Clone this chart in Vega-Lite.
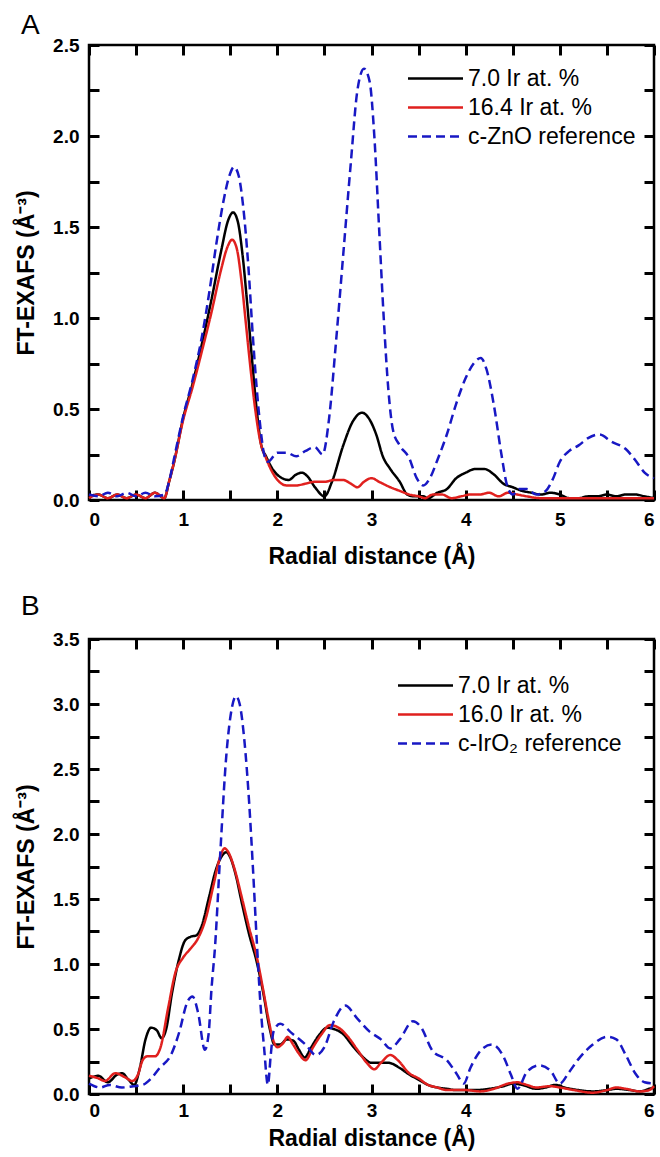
{
"$schema": "https://vega.github.io/schema/vega-lite/v6.json",
"padding": {"left": 14, "top": 10, "right": 0, "bottom": 0},
"config": {
  "font": "Liberation Sans",
  "view": {"stroke": "black", "strokeWidth": 2.5},
  "axis": {"domain": false, "grid": false,
    "labelFont": "Liberation Sans", "labelFontWeight": "bold", "labelFontSize": 19, "labelColor": "black",
    "titleFont": "Liberation Sans", "titleFontWeight": "bold", "titleFontSize": 23, "titleColor": "black"},
  "legend": {"orient": "none", "title": null, "symbolType": "M-2.5,0H2.5", "symbolSize": 484, "symbolStrokeWidth": 2.5,
    "labelFont": "Liberation Sans", "labelFontSize": 23, "labelColor": "black", "labelOffset": 20, "labelLimit": 400, "rowPadding": 4, "padding": 0},
  "title": {"font": "Liberation Sans", "fontSize": 28, "fontWeight": "normal", "color": "black", "anchor": "start", "frame": "group"}
},
"datasets": {
"a": [
{"s":"7.0 Ir at. %","r":0.0,"v":0.02},{"s":"7.0 Ir at. %","r":0.1,"v":0.03},{"s":"7.0 Ir at. %","r":0.2,"v":0.01},{"s":"7.0 Ir at. %","r":0.3,"v":0.03},{"s":"7.0 Ir at. %","r":0.4,"v":0.01},{"s":"7.0 Ir at. %","r":0.5,"v":0.03},{"s":"7.0 Ir at. %","r":0.6,"v":0.01},{"s":"7.0 Ir at. %","r":0.7,"v":0.04},{"s":"7.0 Ir at. %","r":0.8,"v":0.01},{"s":"7.0 Ir at. %","r":0.85,"v":0.1},{"s":"7.0 Ir at. %","r":0.9,"v":0.2},{"s":"7.0 Ir at. %","r":1.0,"v":0.45},{"s":"7.0 Ir at. %","r":1.1,"v":0.64},{"s":"7.0 Ir at. %","r":1.2,"v":0.86},{"s":"7.0 Ir at. %","r":1.3,"v":1.1},{"s":"7.0 Ir at. %","r":1.4,"v":1.36},{"s":"7.0 Ir at. %","r":1.48,"v":1.54},{"s":"7.0 Ir at. %","r":1.53,"v":1.58},{"s":"7.0 Ir at. %","r":1.58,"v":1.53},{"s":"7.0 Ir at. %","r":1.63,"v":1.35},{"s":"7.0 Ir at. %","r":1.68,"v":1.08},{"s":"7.0 Ir at. %","r":1.73,"v":0.78},{"s":"7.0 Ir at. %","r":1.78,"v":0.5},{"s":"7.0 Ir at. %","r":1.83,"v":0.3},{"s":"7.0 Ir at. %","r":1.88,"v":0.24},{"s":"7.0 Ir at. %","r":1.95,"v":0.17},{"s":"7.0 Ir at. %","r":2.05,"v":0.12},{"s":"7.0 Ir at. %","r":2.12,"v":0.11},{"s":"7.0 Ir at. %","r":2.2,"v":0.14},{"s":"7.0 Ir at. %","r":2.26,"v":0.15},{"s":"7.0 Ir at. %","r":2.32,"v":0.13},{"s":"7.0 Ir at. %","r":2.4,"v":0.07},{"s":"7.0 Ir at. %","r":2.5,"v":0.02},{"s":"7.0 Ir at. %","r":2.58,"v":0.1},{"s":"7.0 Ir at. %","r":2.7,"v":0.3},{"s":"7.0 Ir at. %","r":2.8,"v":0.43},{"s":"7.0 Ir at. %","r":2.9,"v":0.48},{"s":"7.0 Ir at. %","r":2.97,"v":0.45},{"s":"7.0 Ir at. %","r":3.05,"v":0.36},{"s":"7.0 Ir at. %","r":3.12,"v":0.24},{"s":"7.0 Ir at. %","r":3.2,"v":0.17},{"s":"7.0 Ir at. %","r":3.3,"v":0.1},{"s":"7.0 Ir at. %","r":3.38,"v":0.03},{"s":"7.0 Ir at. %","r":3.45,"v":0.02},{"s":"7.0 Ir at. %","r":3.55,"v":0.02},{"s":"7.0 Ir at. %","r":3.6,"v":0.01},{"s":"7.0 Ir at. %","r":3.7,"v":0.04},{"s":"7.0 Ir at. %","r":3.8,"v":0.06},{"s":"7.0 Ir at. %","r":3.9,"v":0.12},{"s":"7.0 Ir at. %","r":4.0,"v":0.15},{"s":"7.0 Ir at. %","r":4.1,"v":0.17},{"s":"7.0 Ir at. %","r":4.2,"v":0.17},{"s":"7.0 Ir at. %","r":4.3,"v":0.14},{"s":"7.0 Ir at. %","r":4.4,"v":0.09},{"s":"7.0 Ir at. %","r":4.5,"v":0.07},{"s":"7.0 Ir at. %","r":4.6,"v":0.05},{"s":"7.0 Ir at. %","r":4.7,"v":0.04},{"s":"7.0 Ir at. %","r":4.8,"v":0.03},{"s":"7.0 Ir at. %","r":4.9,"v":0.04},{"s":"7.0 Ir at. %","r":5.0,"v":0.03},{"s":"7.0 Ir at. %","r":5.1,"v":0.01},{"s":"7.0 Ir at. %","r":5.2,"v":0.01},{"s":"7.0 Ir at. %","r":5.3,"v":0.02},{"s":"7.0 Ir at. %","r":5.4,"v":0.02},{"s":"7.0 Ir at. %","r":5.5,"v":0.03},{"s":"7.0 Ir at. %","r":5.6,"v":0.02},{"s":"7.0 Ir at. %","r":5.7,"v":0.03},{"s":"7.0 Ir at. %","r":5.8,"v":0.03},{"s":"7.0 Ir at. %","r":5.9,"v":0.02},{"s":"7.0 Ir at. %","r":6.0,"v":0.01},
{"s":"16.4 Ir at. %","r":0.0,"v":0.01},{"s":"16.4 Ir at. %","r":0.1,"v":0.03},{"s":"16.4 Ir at. %","r":0.2,"v":0.01},{"s":"16.4 Ir at. %","r":0.3,"v":0.03},{"s":"16.4 Ir at. %","r":0.4,"v":0.01},{"s":"16.4 Ir at. %","r":0.5,"v":0.03},{"s":"16.4 Ir at. %","r":0.6,"v":0.01},{"s":"16.4 Ir at. %","r":0.7,"v":0.04},{"s":"16.4 Ir at. %","r":0.8,"v":0.01},{"s":"16.4 Ir at. %","r":0.85,"v":0.1},{"s":"16.4 Ir at. %","r":0.9,"v":0.2},{"s":"16.4 Ir at. %","r":1.0,"v":0.44},{"s":"16.4 Ir at. %","r":1.1,"v":0.62},{"s":"16.4 Ir at. %","r":1.2,"v":0.82},{"s":"16.4 Ir at. %","r":1.3,"v":1.03},{"s":"16.4 Ir at. %","r":1.4,"v":1.26},{"s":"16.4 Ir at. %","r":1.47,"v":1.39},{"s":"16.4 Ir at. %","r":1.52,"v":1.43},{"s":"16.4 Ir at. %","r":1.57,"v":1.38},{"s":"16.4 Ir at. %","r":1.62,"v":1.2},{"s":"16.4 Ir at. %","r":1.67,"v":0.95},{"s":"16.4 Ir at. %","r":1.72,"v":0.7},{"s":"16.4 Ir at. %","r":1.77,"v":0.48},{"s":"16.4 Ir at. %","r":1.82,"v":0.32},{"s":"16.4 Ir at. %","r":1.88,"v":0.23},{"s":"16.4 Ir at. %","r":1.95,"v":0.15},{"s":"16.4 Ir at. %","r":2.02,"v":0.1},{"s":"16.4 Ir at. %","r":2.1,"v":0.08},{"s":"16.4 Ir at. %","r":2.2,"v":0.08},{"s":"16.4 Ir at. %","r":2.3,"v":0.09},{"s":"16.4 Ir at. %","r":2.4,"v":0.1},{"s":"16.4 Ir at. %","r":2.5,"v":0.1},{"s":"16.4 Ir at. %","r":2.6,"v":0.11},{"s":"16.4 Ir at. %","r":2.7,"v":0.11},{"s":"16.4 Ir at. %","r":2.78,"v":0.09},{"s":"16.4 Ir at. %","r":2.85,"v":0.07},{"s":"16.4 Ir at. %","r":2.92,"v":0.1},{"s":"16.4 Ir at. %","r":3.0,"v":0.12},{"s":"16.4 Ir at. %","r":3.08,"v":0.1},{"s":"16.4 Ir at. %","r":3.2,"v":0.07},{"s":"16.4 Ir at. %","r":3.3,"v":0.05},{"s":"16.4 Ir at. %","r":3.4,"v":0.03},{"s":"16.4 Ir at. %","r":3.5,"v":0.02},{"s":"16.4 Ir at. %","r":3.57,"v":0.01},{"s":"16.4 Ir at. %","r":3.65,"v":0.03},{"s":"16.4 Ir at. %","r":3.75,"v":0.03},{"s":"16.4 Ir at. %","r":3.85,"v":0.01},{"s":"16.4 Ir at. %","r":3.95,"v":0.02},{"s":"16.4 Ir at. %","r":4.05,"v":0.03},{"s":"16.4 Ir at. %","r":4.15,"v":0.03},{"s":"16.4 Ir at. %","r":4.25,"v":0.04},{"s":"16.4 Ir at. %","r":4.35,"v":0.02},{"s":"16.4 Ir at. %","r":4.45,"v":0.04},{"s":"16.4 Ir at. %","r":4.55,"v":0.03},{"s":"16.4 Ir at. %","r":4.65,"v":0.02},{"s":"16.4 Ir at. %","r":4.8,"v":0.01},{"s":"16.4 Ir at. %","r":5.0,"v":0.01},{"s":"16.4 Ir at. %","r":5.2,"v":0.01},{"s":"16.4 Ir at. %","r":5.5,"v":0.01},{"s":"16.4 Ir at. %","r":5.8,"v":0.01},{"s":"16.4 Ir at. %","r":6.0,"v":0.01},
{"s":"c-ZnO reference","r":0.0,"v":0.03},{"s":"c-ZnO reference","r":0.1,"v":0.02},{"s":"c-ZnO reference","r":0.2,"v":0.04},{"s":"c-ZnO reference","r":0.3,"v":0.02},{"s":"c-ZnO reference","r":0.4,"v":0.04},{"s":"c-ZnO reference","r":0.5,"v":0.02},{"s":"c-ZnO reference","r":0.6,"v":0.04},{"s":"c-ZnO reference","r":0.7,"v":0.02},{"s":"c-ZnO reference","r":0.8,"v":0.03},{"s":"c-ZnO reference","r":0.85,"v":0.1},{"s":"c-ZnO reference","r":0.9,"v":0.22},{"s":"c-ZnO reference","r":1.0,"v":0.46},{"s":"c-ZnO reference","r":1.1,"v":0.66},{"s":"c-ZnO reference","r":1.2,"v":0.9},{"s":"c-ZnO reference","r":1.28,"v":1.15},{"s":"c-ZnO reference","r":1.35,"v":1.4},{"s":"c-ZnO reference","r":1.42,"v":1.62},{"s":"c-ZnO reference","r":1.49,"v":1.78},{"s":"c-ZnO reference","r":1.54,"v":1.83},{"s":"c-ZnO reference","r":1.59,"v":1.78},{"s":"c-ZnO reference","r":1.64,"v":1.6},{"s":"c-ZnO reference","r":1.69,"v":1.3},{"s":"c-ZnO reference","r":1.74,"v":0.9},{"s":"c-ZnO reference","r":1.78,"v":0.62},{"s":"c-ZnO reference","r":1.82,"v":0.4},{"s":"c-ZnO reference","r":1.86,"v":0.25},{"s":"c-ZnO reference","r":1.9,"v":0.21},{"s":"c-ZnO reference","r":2.0,"v":0.26},{"s":"c-ZnO reference","r":2.1,"v":0.26},{"s":"c-ZnO reference","r":2.2,"v":0.24},{"s":"c-ZnO reference","r":2.3,"v":0.27},{"s":"c-ZnO reference","r":2.4,"v":0.29},{"s":"c-ZnO reference","r":2.48,"v":0.25},{"s":"c-ZnO reference","r":2.55,"v":0.45},{"s":"c-ZnO reference","r":2.62,"v":0.85},{"s":"c-ZnO reference","r":2.7,"v":1.35},{"s":"c-ZnO reference","r":2.78,"v":1.85},{"s":"c-ZnO reference","r":2.85,"v":2.25},{"s":"c-ZnO reference","r":2.92,"v":2.37},{"s":"c-ZnO reference","r":2.98,"v":2.3},{"s":"c-ZnO reference","r":3.03,"v":2.0},{"s":"c-ZnO reference","r":3.08,"v":1.5},{"s":"c-ZnO reference","r":3.13,"v":1.0},{"s":"c-ZnO reference","r":3.18,"v":0.6},{"s":"c-ZnO reference","r":3.23,"v":0.38},{"s":"c-ZnO reference","r":3.3,"v":0.3},{"s":"c-ZnO reference","r":3.4,"v":0.23},{"s":"c-ZnO reference","r":3.48,"v":0.12},{"s":"c-ZnO reference","r":3.55,"v":0.08},{"s":"c-ZnO reference","r":3.62,"v":0.12},{"s":"c-ZnO reference","r":3.7,"v":0.22},{"s":"c-ZnO reference","r":3.8,"v":0.36},{"s":"c-ZnO reference","r":3.9,"v":0.53},{"s":"c-ZnO reference","r":4.0,"v":0.67},{"s":"c-ZnO reference","r":4.1,"v":0.76},{"s":"c-ZnO reference","r":4.16,"v":0.78},{"s":"c-ZnO reference","r":4.22,"v":0.72},{"s":"c-ZnO reference","r":4.3,"v":0.52},{"s":"c-ZnO reference","r":4.38,"v":0.25},{"s":"c-ZnO reference","r":4.44,"v":0.08},{"s":"c-ZnO reference","r":4.5,"v":0.03},{"s":"c-ZnO reference","r":4.57,"v":0.06},{"s":"c-ZnO reference","r":4.65,"v":0.06},{"s":"c-ZnO reference","r":4.75,"v":0.03},{"s":"c-ZnO reference","r":4.85,"v":0.05},{"s":"c-ZnO reference","r":4.93,"v":0.12},{"s":"c-ZnO reference","r":5.0,"v":0.21},{"s":"c-ZnO reference","r":5.1,"v":0.27},{"s":"c-ZnO reference","r":5.2,"v":0.3},{"s":"c-ZnO reference","r":5.3,"v":0.34},{"s":"c-ZnO reference","r":5.42,"v":0.36},{"s":"c-ZnO reference","r":5.55,"v":0.32},{"s":"c-ZnO reference","r":5.7,"v":0.28},{"s":"c-ZnO reference","r":5.8,"v":0.22},{"s":"c-ZnO reference","r":5.9,"v":0.15},{"s":"c-ZnO reference","r":6.0,"v":0.12}
],
"b": [
{"s":"7.0 Ir at. %","r":0.0,"v":0.12},{"s":"7.0 Ir at. %","r":0.1,"v":0.14},{"s":"7.0 Ir at. %","r":0.2,"v":0.09},{"s":"7.0 Ir at. %","r":0.3,"v":0.15},{"s":"7.0 Ir at. %","r":0.35,"v":0.16},{"s":"7.0 Ir at. %","r":0.42,"v":0.11},{"s":"7.0 Ir at. %","r":0.48,"v":0.07},{"s":"7.0 Ir at. %","r":0.54,"v":0.2},{"s":"7.0 Ir at. %","r":0.6,"v":0.42},{"s":"7.0 Ir at. %","r":0.66,"v":0.51},{"s":"7.0 Ir at. %","r":0.72,"v":0.49},{"s":"7.0 Ir at. %","r":0.77,"v":0.43},{"s":"7.0 Ir at. %","r":0.82,"v":0.5},{"s":"7.0 Ir at. %","r":0.88,"v":0.77},{"s":"7.0 Ir at. %","r":0.95,"v":1.02},{"s":"7.0 Ir at. %","r":1.02,"v":1.18},{"s":"7.0 Ir at. %","r":1.08,"v":1.21},{"s":"7.0 Ir at. %","r":1.14,"v":1.22},{"s":"7.0 Ir at. %","r":1.2,"v":1.3},{"s":"7.0 Ir at. %","r":1.27,"v":1.5},{"s":"7.0 Ir at. %","r":1.35,"v":1.73},{"s":"7.0 Ir at. %","r":1.42,"v":1.84},{"s":"7.0 Ir at. %","r":1.46,"v":1.86},{"s":"7.0 Ir at. %","r":1.5,"v":1.82},{"s":"7.0 Ir at. %","r":1.56,"v":1.68},{"s":"7.0 Ir at. %","r":1.62,"v":1.48},{"s":"7.0 Ir at. %","r":1.7,"v":1.23},{"s":"7.0 Ir at. %","r":1.78,"v":1.02},{"s":"7.0 Ir at. %","r":1.85,"v":0.78},{"s":"7.0 Ir at. %","r":1.92,"v":0.5},{"s":"7.0 Ir at. %","r":1.97,"v":0.38},{"s":"7.0 Ir at. %","r":2.03,"v":0.38},{"s":"7.0 Ir at. %","r":2.1,"v":0.42},{"s":"7.0 Ir at. %","r":2.17,"v":0.41},{"s":"7.0 Ir at. %","r":2.23,"v":0.34},{"s":"7.0 Ir at. %","r":2.29,"v":0.28},{"s":"7.0 Ir at. %","r":2.36,"v":0.36},{"s":"7.0 Ir at. %","r":2.45,"v":0.46},{"s":"7.0 Ir at. %","r":2.53,"v":0.51},{"s":"7.0 Ir at. %","r":2.6,"v":0.5},{"s":"7.0 Ir at. %","r":2.7,"v":0.46},{"s":"7.0 Ir at. %","r":2.8,"v":0.37},{"s":"7.0 Ir at. %","r":2.9,"v":0.29},{"s":"7.0 Ir at. %","r":3.0,"v":0.24},{"s":"7.0 Ir at. %","r":3.1,"v":0.24},{"s":"7.0 Ir at. %","r":3.18,"v":0.24},{"s":"7.0 Ir at. %","r":3.3,"v":0.2},{"s":"7.0 Ir at. %","r":3.4,"v":0.15},{"s":"7.0 Ir at. %","r":3.5,"v":0.11},{"s":"7.0 Ir at. %","r":3.6,"v":0.07},{"s":"7.0 Ir at. %","r":3.7,"v":0.05},{"s":"7.0 Ir at. %","r":3.8,"v":0.04},{"s":"7.0 Ir at. %","r":3.9,"v":0.03},{"s":"7.0 Ir at. %","r":4.0,"v":0.03},{"s":"7.0 Ir at. %","r":4.1,"v":0.03},{"s":"7.0 Ir at. %","r":4.25,"v":0.04},{"s":"7.0 Ir at. %","r":4.4,"v":0.06},{"s":"7.0 Ir at. %","r":4.5,"v":0.08},{"s":"7.0 Ir at. %","r":4.6,"v":0.07},{"s":"7.0 Ir at. %","r":4.75,"v":0.04},{"s":"7.0 Ir at. %","r":4.85,"v":0.05},{"s":"7.0 Ir at. %","r":4.95,"v":0.07},{"s":"7.0 Ir at. %","r":5.05,"v":0.05},{"s":"7.0 Ir at. %","r":5.2,"v":0.03},{"s":"7.0 Ir at. %","r":5.35,"v":0.02},{"s":"7.0 Ir at. %","r":5.5,"v":0.03},{"s":"7.0 Ir at. %","r":5.6,"v":0.04},{"s":"7.0 Ir at. %","r":5.75,"v":0.03},{"s":"7.0 Ir at. %","r":5.85,"v":0.02},{"s":"7.0 Ir at. %","r":5.95,"v":0.04},{"s":"7.0 Ir at. %","r":6.0,"v":0.05},
{"s":"16.0 Ir at. %","r":0.0,"v":0.14},{"s":"16.0 Ir at. %","r":0.1,"v":0.12},{"s":"16.0 Ir at. %","r":0.17,"v":0.1},{"s":"16.0 Ir at. %","r":0.28,"v":0.16},{"s":"16.0 Ir at. %","r":0.38,"v":0.13},{"s":"16.0 Ir at. %","r":0.46,"v":0.1},{"s":"16.0 Ir at. %","r":0.52,"v":0.15},{"s":"16.0 Ir at. %","r":0.57,"v":0.26},{"s":"16.0 Ir at. %","r":0.62,"v":0.29},{"s":"16.0 Ir at. %","r":0.7,"v":0.29},{"s":"16.0 Ir at. %","r":0.76,"v":0.36},{"s":"16.0 Ir at. %","r":0.84,"v":0.66},{"s":"16.0 Ir at. %","r":0.92,"v":0.94},{"s":"16.0 Ir at. %","r":1.0,"v":1.05},{"s":"16.0 Ir at. %","r":1.08,"v":1.12},{"s":"16.0 Ir at. %","r":1.16,"v":1.2},{"s":"16.0 Ir at. %","r":1.24,"v":1.35},{"s":"16.0 Ir at. %","r":1.32,"v":1.6},{"s":"16.0 Ir at. %","r":1.4,"v":1.84},{"s":"16.0 Ir at. %","r":1.44,"v":1.89},{"s":"16.0 Ir at. %","r":1.48,"v":1.86},{"s":"16.0 Ir at. %","r":1.55,"v":1.72},{"s":"16.0 Ir at. %","r":1.62,"v":1.52},{"s":"16.0 Ir at. %","r":1.7,"v":1.28},{"s":"16.0 Ir at. %","r":1.78,"v":1.06},{"s":"16.0 Ir at. %","r":1.85,"v":0.8},{"s":"16.0 Ir at. %","r":1.9,"v":0.6},{"s":"16.0 Ir at. %","r":1.95,"v":0.43},{"s":"16.0 Ir at. %","r":2.0,"v":0.36},{"s":"16.0 Ir at. %","r":2.06,"v":0.39},{"s":"16.0 Ir at. %","r":2.11,"v":0.44},{"s":"16.0 Ir at. %","r":2.16,"v":0.39},{"s":"16.0 Ir at. %","r":2.22,"v":0.32},{"s":"16.0 Ir at. %","r":2.3,"v":0.26},{"s":"16.0 Ir at. %","r":2.38,"v":0.36},{"s":"16.0 Ir at. %","r":2.47,"v":0.46},{"s":"16.0 Ir at. %","r":2.56,"v":0.53},{"s":"16.0 Ir at. %","r":2.65,"v":0.51},{"s":"16.0 Ir at. %","r":2.75,"v":0.44},{"s":"16.0 Ir at. %","r":2.85,"v":0.34},{"s":"16.0 Ir at. %","r":2.95,"v":0.24},{"s":"16.0 Ir at. %","r":3.03,"v":0.19},{"s":"16.0 Ir at. %","r":3.1,"v":0.24},{"s":"16.0 Ir at. %","r":3.2,"v":0.3},{"s":"16.0 Ir at. %","r":3.28,"v":0.26},{"s":"16.0 Ir at. %","r":3.4,"v":0.16},{"s":"16.0 Ir at. %","r":3.5,"v":0.12},{"s":"16.0 Ir at. %","r":3.6,"v":0.07},{"s":"16.0 Ir at. %","r":3.7,"v":0.05},{"s":"16.0 Ir at. %","r":3.8,"v":0.03},{"s":"16.0 Ir at. %","r":3.9,"v":0.03},{"s":"16.0 Ir at. %","r":4.0,"v":0.03},{"s":"16.0 Ir at. %","r":4.15,"v":0.02},{"s":"16.0 Ir at. %","r":4.3,"v":0.04},{"s":"16.0 Ir at. %","r":4.45,"v":0.08},{"s":"16.0 Ir at. %","r":4.55,"v":0.09},{"s":"16.0 Ir at. %","r":4.65,"v":0.07},{"s":"16.0 Ir at. %","r":4.75,"v":0.05},{"s":"16.0 Ir at. %","r":4.9,"v":0.06},{"s":"16.0 Ir at. %","r":5.0,"v":0.05},{"s":"16.0 Ir at. %","r":5.15,"v":0.03},{"s":"16.0 Ir at. %","r":5.35,"v":0.01},{"s":"16.0 Ir at. %","r":5.5,"v":0.03},{"s":"16.0 Ir at. %","r":5.6,"v":0.05},{"s":"16.0 Ir at. %","r":5.7,"v":0.04},{"s":"16.0 Ir at. %","r":5.85,"v":0.02},{"s":"16.0 Ir at. %","r":5.95,"v":0.03},{"s":"16.0 Ir at. %","r":6.0,"v":0.06},
{"s":"c-IrO₂ reference","r":0.0,"v":0.08},{"s":"c-IrO₂ reference","r":0.12,"v":0.05},{"s":"c-IrO₂ reference","r":0.22,"v":0.07},{"s":"c-IrO₂ reference","r":0.35,"v":0.05},{"s":"c-IrO₂ reference","r":0.47,"v":0.06},{"s":"c-IrO₂ reference","r":0.57,"v":0.07},{"s":"c-IrO₂ reference","r":0.66,"v":0.12},{"s":"c-IrO₂ reference","r":0.75,"v":0.2},{"s":"c-IrO₂ reference","r":0.87,"v":0.3},{"s":"c-IrO₂ reference","r":0.96,"v":0.48},{"s":"c-IrO₂ reference","r":1.04,"v":0.7},{"s":"c-IrO₂ reference","r":1.1,"v":0.75},{"s":"c-IrO₂ reference","r":1.16,"v":0.62},{"s":"c-IrO₂ reference","r":1.23,"v":0.34},{"s":"c-IrO₂ reference","r":1.27,"v":0.46},{"s":"c-IrO₂ reference","r":1.3,"v":0.8},{"s":"c-IrO₂ reference","r":1.34,"v":1.15},{"s":"c-IrO₂ reference","r":1.39,"v":1.8},{"s":"c-IrO₂ reference","r":1.46,"v":2.62},{"s":"c-IrO₂ reference","r":1.52,"v":2.98},{"s":"c-IrO₂ reference","r":1.56,"v":3.06},{"s":"c-IrO₂ reference","r":1.6,"v":3.0},{"s":"c-IrO₂ reference","r":1.65,"v":2.72},{"s":"c-IrO₂ reference","r":1.7,"v":2.25},{"s":"c-IrO₂ reference","r":1.74,"v":1.75},{"s":"c-IrO₂ reference","r":1.78,"v":1.2},{"s":"c-IrO₂ reference","r":1.82,"v":0.7},{"s":"c-IrO₂ reference","r":1.86,"v":0.35},{"s":"c-IrO₂ reference","r":1.9,"v":0.07},{"s":"c-IrO₂ reference","r":1.93,"v":0.3},{"s":"c-IrO₂ reference","r":1.96,"v":0.48},{"s":"c-IrO₂ reference","r":2.03,"v":0.54},{"s":"c-IrO₂ reference","r":2.15,"v":0.47},{"s":"c-IrO₂ reference","r":2.3,"v":0.38},{"s":"c-IrO₂ reference","r":2.41,"v":0.3},{"s":"c-IrO₂ reference","r":2.5,"v":0.36},{"s":"c-IrO₂ reference","r":2.6,"v":0.56},{"s":"c-IrO₂ reference","r":2.72,"v":0.68},{"s":"c-IrO₂ reference","r":2.85,"v":0.58},{"s":"c-IrO₂ reference","r":2.98,"v":0.48},{"s":"c-IrO₂ reference","r":3.1,"v":0.42},{"s":"c-IrO₂ reference","r":3.2,"v":0.35},{"s":"c-IrO₂ reference","r":3.3,"v":0.42},{"s":"c-IrO₂ reference","r":3.44,"v":0.56},{"s":"c-IrO₂ reference","r":3.52,"v":0.52},{"s":"c-IrO₂ reference","r":3.65,"v":0.33},{"s":"c-IrO₂ reference","r":3.8,"v":0.26},{"s":"c-IrO₂ reference","r":3.9,"v":0.16},{"s":"c-IrO₂ reference","r":3.98,"v":0.08},{"s":"c-IrO₂ reference","r":4.05,"v":0.2},{"s":"c-IrO₂ reference","r":4.18,"v":0.35},{"s":"c-IrO₂ reference","r":4.28,"v":0.38},{"s":"c-IrO₂ reference","r":4.4,"v":0.29},{"s":"c-IrO₂ reference","r":4.48,"v":0.15},{"s":"c-IrO₂ reference","r":4.55,"v":0.04},{"s":"c-IrO₂ reference","r":4.65,"v":0.17},{"s":"c-IrO₂ reference","r":4.78,"v":0.22},{"s":"c-IrO₂ reference","r":4.9,"v":0.18},{"s":"c-IrO₂ reference","r":5.0,"v":0.08},{"s":"c-IrO₂ reference","r":5.1,"v":0.17},{"s":"c-IrO₂ reference","r":5.2,"v":0.27},{"s":"c-IrO₂ reference","r":5.35,"v":0.38},{"s":"c-IrO₂ reference","r":5.5,"v":0.44},{"s":"c-IrO₂ reference","r":5.6,"v":0.42},{"s":"c-IrO₂ reference","r":5.7,"v":0.3},{"s":"c-IrO₂ reference","r":5.8,"v":0.16},{"s":"c-IrO₂ reference","r":5.9,"v":0.09},{"s":"c-IrO₂ reference","r":6.0,"v":0.08}
]
},
"spacing": 21,
"resolve": {"scale": {"x": "independent", "y": "independent", "color": "independent", "strokeDash": "independent"}, "legend": {"color": "independent", "strokeDash": "independent"}},
"vconcat": [
{
  "title": {"text": "A", "dx": -68, "offset": -4},
  "width": 565, "height": 455,
  "data": {"name": "a"},
  "layer": [
    {"mark": {"type": "line", "interpolate": "monotone", "strokeWidth": 2.5},
     "encoding": {
       "x": {"field": "r", "type": "quantitative", "scale": {"domain": [0, 6], "nice": false, "zero": false},
             "axis": {"orient": "bottom", "values": [0,1,2,3,4,5,6], "ticks": false, "labelPadding": 10, "title": "Radial distance (Å)", "titlePadding": 16, "format": "d"}},
       "y": {"field": "v", "type": "quantitative", "scale": {"domain": [0, 2.5], "nice": false},
             "axis": {"orient": "left", "values": [0,0.5,1,1.5,2,2.5], "ticks": false, "labelPadding": 10, "format": ".1f", "title": "FT-EXAFS (Å⁻³)", "titlePadding": 14}},
       "color": {"field": "s", "type": "nominal", "scale": {"domain": ["7.0 Ir at. %", "16.4 Ir at. %", "c-ZnO reference"], "range": ["#000000", "#e0201e", "#1818c4"]},
                 "legend": {"legendX": 334, "legendY": 21}},
       "strokeDash": {"field": "s", "type": "nominal", "scale": {"domain": ["7.0 Ir at. %", "16.4 Ir at. %", "c-ZnO reference"], "range": [[1,0],[1,0],[9,5]]},
                 "legend": {"legendX": 334, "legendY": 21}}
     }},
    {"mark": {"type": "point", "opacity": 0},
     "encoding": {
       "x": {"field": "r", "type": "quantitative", "scale": {"domain": [0, 6], "nice": false, "zero": false}, "axis": {"orient": "top", "offset": -455, "values": [0,0.5,1,1.5,2,2.5,3,3.5,4,4.5,5,5.5,6], "ticks": true, "tickColor": "#000000", "tickWidth": 3, "tickSize": 10, "labels": false, "title": null}},
       "y": {"field": "v", "type": "quantitative", "scale": {"domain": [0, 2.5], "nice": false}, "axis": {"orient": "right", "offset": -565, "values": [0,0.25,0.5,0.75,1,1.25,1.5,1.75,2,2.25,2.5], "ticks": true, "tickColor": "#000000", "tickWidth": 3, "tickSize": 10, "labels": false, "title": null}}
     }},
    {"mark": {"type": "point", "opacity": 0},
     "encoding": {
       "x": {"field": "r", "type": "quantitative", "scale": {"domain": [0, 6], "nice": false, "zero": false}, "axis": {"orient": "bottom", "offset": -455, "values": [0,0.5,1,1.5,2,2.5,3,3.5,4,4.5,5,5.5,6], "ticks": true, "tickColor": "#000000", "tickWidth": 3, "tickSize": 10, "labels": false, "title": null}},
       "y": {"field": "v", "type": "quantitative", "scale": {"domain": [0, 2.5], "nice": false}, "axis": {"orient": "left", "offset": -565, "values": [0,0.25,0.5,0.75,1,1.25,1.5,1.75,2,2.25,2.5], "ticks": true, "tickColor": "#000000", "tickWidth": 3, "tickSize": 10, "labels": false, "title": null}}
     }}
  ],
  "resolve": {"scale": {"x": "independent", "y": "independent"}, "axis": {"x": "independent", "y": "independent"}}
},
{
  "title": {"text": "B", "dx": -68, "offset": 9},
  "width": 565, "height": 455,
  "data": {"name": "b"},
  "layer": [
    {"mark": {"type": "line", "interpolate": "monotone", "strokeWidth": 2.5},
     "encoding": {
       "x": {"field": "r", "type": "quantitative", "scale": {"domain": [0, 6], "nice": false, "zero": false},
             "axis": {"orient": "bottom", "values": [0,1,2,3,4,5,6], "ticks": false, "labelPadding": 7, "title": "Radial distance (Å)", "titlePadding": 7, "format": "d"}},
       "y": {"field": "v", "type": "quantitative", "scale": {"domain": [0, 3.5], "nice": false},
             "axis": {"orient": "left", "values": [0,0.5,1,1.5,2,2.5,3,3.5], "ticks": false, "labelPadding": 10, "format": ".1f", "title": "FT-EXAFS (Å⁻³)", "titlePadding": 14}},
       "color": {"field": "s", "type": "nominal", "scale": {"domain": ["7.0 Ir at. %", "16.0 Ir at. %", "c-IrO₂ reference"], "range": ["#000000", "#e0201e", "#1818c4"]},
                 "legend": {"legendX": 324, "legendY": 34}},
       "strokeDash": {"field": "s", "type": "nominal", "scale": {"domain": ["7.0 Ir at. %", "16.0 Ir at. %", "c-IrO₂ reference"], "range": [[1,0],[1,0],[9,5]]},
                 "legend": {"legendX": 324, "legendY": 34}}
     }},
    {"mark": {"type": "point", "opacity": 0},
     "encoding": {
       "x": {"field": "r", "type": "quantitative", "scale": {"domain": [0, 6], "nice": false, "zero": false}, "axis": {"orient": "top", "offset": -455, "values": [0,0.5,1,1.5,2,2.5,3,3.5,4,4.5,5,5.5,6], "ticks": true, "tickColor": "#000000", "tickWidth": 3, "tickSize": 10, "labels": false, "title": null}},
       "y": {"field": "v", "type": "quantitative", "scale": {"domain": [0, 3.5], "nice": false}, "axis": {"orient": "right", "offset": -565, "values": [0,0.25,0.5,0.75,1,1.25,1.5,1.75,2,2.25,2.5,2.75,3,3.25,3.5], "ticks": true, "tickColor": "#000000", "tickWidth": 3, "tickSize": 10, "labels": false, "title": null}}
     }},
    {"mark": {"type": "point", "opacity": 0},
     "encoding": {
       "x": {"field": "r", "type": "quantitative", "scale": {"domain": [0, 6], "nice": false, "zero": false}, "axis": {"orient": "bottom", "offset": -455, "values": [0,0.5,1,1.5,2,2.5,3,3.5,4,4.5,5,5.5,6], "ticks": true, "tickColor": "#000000", "tickWidth": 3, "tickSize": 10, "labels": false, "title": null}},
       "y": {"field": "v", "type": "quantitative", "scale": {"domain": [0, 3.5], "nice": false}, "axis": {"orient": "left", "offset": -565, "values": [0,0.25,0.5,0.75,1,1.25,1.5,1.75,2,2.25,2.5,2.75,3,3.25,3.5], "ticks": true, "tickColor": "#000000", "tickWidth": 3, "tickSize": 10, "labels": false, "title": null}}
     }}
  ],
  "resolve": {"scale": {"x": "independent", "y": "independent"}, "axis": {"x": "independent", "y": "independent"}}
}
]
}
